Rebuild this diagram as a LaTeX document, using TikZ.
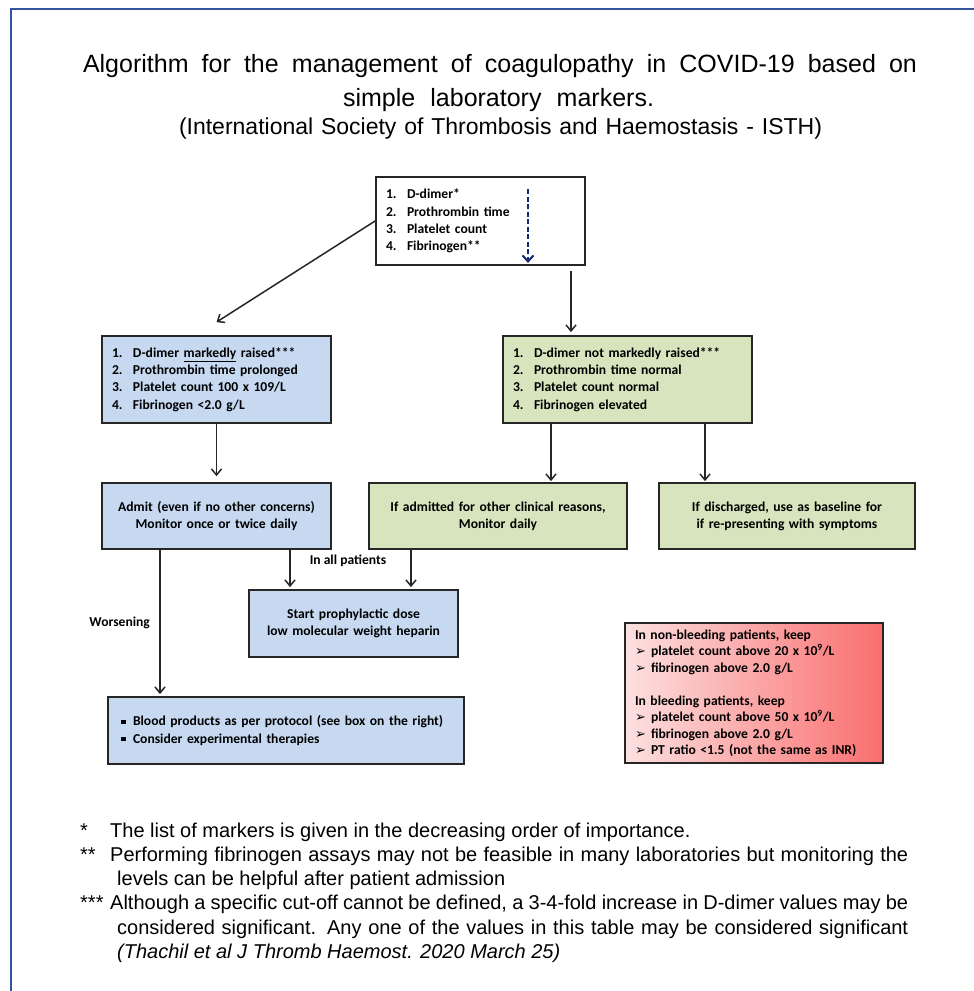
\documentclass[tikz,border=0pt]{standalone}
\usepackage{fontspec}
\setmainfont{Liberation Sans}
\newfontfamily\boxfont{Carlito}
\newfontfamily\dingfont{DejaVu Sans}
\usetikzlibrary{positioning,calc,arrows.meta}
\definecolor{frameblue}{RGB}{52,84,160}
\definecolor{boxblue}{RGB}{198,217,241}
\definecolor{boxgreen}{RGB}{215,228,189}
\definecolor{redlight}{RGB}{252,224,224}
\definecolor{reddark}{RGB}{250,110,110}
\definecolor{dimnavy}{RGB}{22,40,112}
\newcommand{\itemno}[1]{\makebox[21pt][l]{#1}}
\newcommand{\sqbullet}{\makebox[12pt][l]{\rule[0.25ex]{4.5pt}{4.5pt}}}
\newcommand{\arrowitem}{\makebox[16pt][l]{\dingfont\fontsize{13}{13}\selectfont\char"27A2}}

\begin{document}
\begin{tikzpicture}[%
    x=1pt, y=-1pt,               % pixel units, y runs downwards
    >={Straight Barb[length=6pt,width=10pt]},
    node distance=10pt]
% -------------------------------------------------
% Box styles
% <on grid> makes every relative distance centre to centre
\tikzset{
  base/.style={draw=black!85, line width=1.8pt, on grid, inner ysep=0pt,
    font=\boxfont\bfseries\fontsize{13.6}{17.2}\selectfont},
  list/.style={base, align=left, inner xsep=10pt},
  mid/.style={base, align=center, inner xsep=4pt},
  bluebox/.style={fill=boxblue},
  greenbox/.style={fill=boxgreen},
  redbox/.style={left color=redlight, right color=reddark},
  lbl/.style={font=\boxfont\bfseries\fontsize{13.6}{15}\selectfont},
  % -------------------------------------------------
  % Connector line styles
  arr/.style={->, draw=black!85, line width=1.5pt},
  dimarr/.style={-{Straight Barb[length=6pt,width=11pt]}, draw=dimnavy,
    line width=2pt, dash pattern=on 5pt off 2.5pt},
  ttl/.style={anchor=base, inner sep=0pt}
}
\useasboundingbox (0,0) rectangle (974,991);
\draw[frameblue, line width=2pt] (11,991) -- (11,9) -- (974,9);

% -------------------------------------------------
% Heading
\node[ttl, font=\fontsize{25}{30}\selectfont] (title1) at (500,72)
  {\makebox[834pt][s]{Algorithm for the management of coagulopathy in COVID-19 based on}};
\node[ttl, font=\fontsize{25}{30}\selectfont] (title2) at (498.5,106)
  {\makebox[311pt][s]{simple laboratory markers.}};
\node[ttl, font=\fontsize{23}{28}\selectfont] (title3) at (500.5,134)
  {\makebox[643pt][s]{(International Society of Thrombosis and Haemostasis - ISTH)}};

% -------------------------------------------------
% The boxes, placed from the top one
\node[list, fill=white, text width=189pt, minimum height=88pt] (top) at (480.5,221)
  {\itemno{1.}D-dimer*\\ \itemno{2.}Prothrombin time\\
   \itemno{3.}Platelet count\\ \itemno{4.}Fibrinogen**};
\node[list, bluebox, text width=209pt, minimum height=87pt,
  below left=158.5pt and 264pt of top] (sev)
  {\itemno{1.}D-dimer \underline{markedly} raised***\\
   \itemno{2.}Prothrombin time prolonged\\
   \itemno{3.}Platelet count 100 x 109/L\\
   \itemno{4.}Fibrinogen <2.0 g/L};
\node[list, greenbox, text width=229pt, minimum height=87pt,
  below right=158.5pt and 147pt of top] (mild)
  {\itemno{1.}D-dimer not markedly raised***\\
   \itemno{2.}Prothrombin time normal\\
   \itemno{3.}Platelet count normal\\
   \itemno{4.}Fibrinogen elevated};

\node[mid, bluebox, text width=221pt, minimum height=66pt, below=136.5pt of sev] (admit)
  {Admit (even if no other concerns)\\ Monitor once or twice daily};
\node[mid, greenbox, text width=250pt, minimum height=66pt, right=281.5pt of admit] (other)
  {If admitted for other clinical reasons,\\ Monitor daily};
\node[mid, greenbox, text width=248pt, minimum height=66pt, right=289pt of other] (disch)
  {If discharged, use as baseline for\\ if re-presenting with symptoms};

\node[mid, bluebox, text width=201pt, minimum height=67pt,
  below right=107.5pt and 137pt of admit] (lmwh)
  {Start prophylactic dose\\ low molecular weight heparin};
\node[list, bluebox, inner xsep=13pt, text width=330pt, minimum height=67pt,
  below right=214.5pt and 69.5pt of admit] (blood)
  {\sqbullet Blood products as per protocol (see box on the right)\\
   \sqbullet Consider experimental therapies};

\node[list, redbox, text width=238pt, minimum height=140pt,
  font=\boxfont\bfseries\fontsize{13.6}{16.5}\selectfont,
  below left=177pt and 33pt of disch] (keep)
  {In non-bleeding patients, keep\\
   \arrowitem platelet count above 20 x 10\textsuperscript{9}/L\\
   \arrowitem fibrinogen above 2.0 g/L\\[16.5pt]
   In bleeding patients, keep\\
   \arrowitem platelet count above 50 x 10\textsuperscript{9}/L\\
   \arrowitem fibrinogen above 2.0 g/L\\
   \arrowitem PT ratio <1.5 (not the same as INR)};

% -------------------------------------------------
% Connectors
\draw[dimarr, shorten <=13pt, shorten >=3pt]
  ([xshift=47.5pt]top.north) -- ([xshift=47.5pt]top.south);
\coordinate[above=13pt of sev.north] (c1);
\draw[arr] (top.west) -- (c1);
\draw[arr, shorten <=5pt, shorten >=3pt]
  ([xshift=90.5pt]top.south) -- ([xshift=90.5pt]top.south |- mild.north);
\draw[arr, shorten >=6pt] (sev) -- (admit);
\draw[arr, shorten >=1pt]
  ([xshift=-76.5pt]mild.south) -- ([xshift=-76.5pt]mild.south |- other.north);
\draw[arr, shorten >=1pt]
  ([xshift=77.5pt]mild.south) -- ([xshift=77.5pt]mild.south |- disch.north);
\draw[arr, shorten >=2pt]
  ([xshift=73.5pt]admit.south) -- ([xshift=73.5pt]admit.south |- lmwh.north);
\draw[arr, shorten >=2pt]
  ([xshift=-87pt]other.south) -- ([xshift=-87pt]other.south |- lmwh.north);
\draw[arr, shorten >=2pt]
  ([xshift=-56.5pt]admit.south) -- ([xshift=-56.5pt]admit.south |- blood.north)
  node[lbl, midway, left=6pt] (worse) {Worsening};
\node[lbl, on grid, above=19pt of lmwh.north, xshift=-5.5pt] (all) {In all patients};

% -------------------------------------------------
% Footnotes
\node[anchor=base west, inner sep=0pt, font=\fontsize{20}{24.3}\selectfont] (notes) at (80,837)
  {\begin{tabular}[t]{@{}p{30pt}@{}l@{}}
   {*} & The list of markers is given in the decreasing order of importance.\\
   {**} & \makebox[798pt][s]{Performing fibrinogen assays may not be feasible in many laboratories but monitoring the}\\
      & \hspace{7pt}levels can be helpful after patient admission\\
   {***} & \makebox[798pt][s]{Although a specific cut-off cannot be defined, a 3-4-fold increase in D-dimer values may be}\\
      & \hspace{7pt}\makebox[791pt][s]{considered significant. Any one of the values in this table may be considered significant}\\
      & \hspace{7pt}\textit{(Thachil et al J Thromb Haemost. 2020 March 25)}
   \end{tabular}};
\end{tikzpicture}
\end{document}
